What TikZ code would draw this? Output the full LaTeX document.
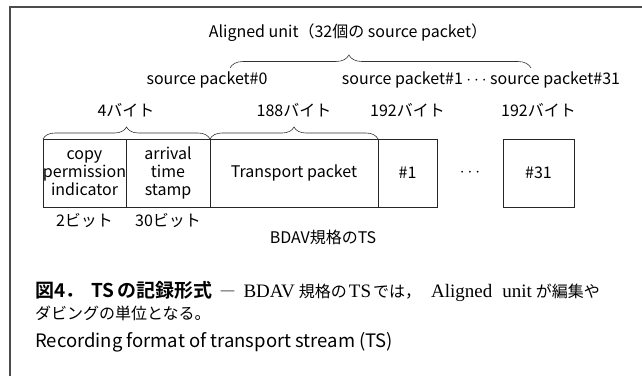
\documentclass[tikz,border=0pt]{standalone}
\usepackage{fontspec}
\setmainfont{Noto Sans CJK JP}[BoldFont={Noto Sans CJK JP Bold}]
\newfontfamily\capserif{Liberation Serif}
\newcommand\caplatin{\fontsize{19}{20}\selectfont\capserif}
\usetikzlibrary{positioning,decorations.pathreplacing}

\begin{document}
\begin{tikzpicture}[x=1pt,y=-1pt,
  cell/.style={draw=black!85, line width=0.9pt, minimum height=68pt, inner sep=0pt, outer sep=0pt, align=center, font=\fontsize{16}{18}\selectfont},
  lbl/.style={inner sep=1pt, font=\fontsize{16}{18}\selectfont},
  brc/.style={decorate, decoration={brace, amplitude=12pt}, black!80, line width=0.6pt}]
\useasboundingbox (0,0) rectangle (642,376);
% Frame on the top and left side
\draw[black!70, line width=2pt] (642,7) -- (10,7) -- (10,376);

% The row of packet fields
\node[cell, minimum width=83pt] (cpi) at (84.5,173) {copy\\permission\\indicator};
\node[cell, minimum width=84pt, right=0pt of cpi] (ats) {arrival\\time\\stamp};
\node[cell, minimum width=168pt, right=0pt of ats] (tp) {Transport packet};
\node[cell, minimum width=59pt, right=0pt of tp] (sp1) {\#1};
\node[cell, draw=none, minimum width=66pt, right=0pt of sp1] (dots) {$\cdots$};
\node[cell, minimum width=71pt, right=0pt of dots] (sp31) {\#31};

% Byte counts and braces over the fields
\draw[brc] (cpi.north west) -- (ats.north east);
\draw[brc] (tp.north west) -- (tp.north east);
\node[lbl] (b4) at (126,110) {4バイト};
\node[lbl] (b188) at (tp |- b4) {188バイト};
\node[lbl] (b192a) at (sp1 |- b4) {192バイト};
\node[lbl] (b192b) at (sp31 |- b4) {192バイト};

% Source packets and the aligned unit
\node[lbl] (sp0) at (207,80) {source packet\#0};
\node[lbl] (spn) at (481,80) {source packet\#1 $\cdots$ source packet\#31};
\coordinate (au1) at (230,68);
\coordinate (au2) at (531,68);
\draw[brc, decoration={amplitude=13pt, aspect=0.395}] (au1) -- (au2);
\node[lbl] (au) at (348,33) {Aligned unit（32個の source packet）};

% Bit counts and the name of the stream
\node[lbl] (bit2) at (cpi |- 0,220) {2ビット};
\node[lbl] (bit30) at (ats |- 0,220) {30ビット};
\node[lbl] (bdav) at (323,237) {BDAV規格のTS};

% Caption
\node[anchor=west, inner sep=0pt, font=\fontsize{16}{19}\selectfont] (cap1) at (35,291)
  {{\fontsize{19}{20}\selectfont\bfseries 図4．\hspace{7pt}TS\hspace{3pt}の記録形式}\hspace{7pt}―\hspace{8pt}{\caplatin BDAV}\hspace{4pt}規格の\hspace{2pt}{\caplatin TS}\hspace{2pt}では，\hspace{10pt}{\caplatin Aligned\hspace{10pt}unit}\hspace{4pt}が編集や};
\node[anchor=west, inner sep=0pt, font=\fontsize{16}{19}\selectfont] (cap2) at (35,313) {ダビングの単位となる。};
\node[anchor=west, inner sep=0pt, font=\fontsize{18.5}{21}\selectfont] (rec) at (35,342) {Recording format of transport stream (TS)};
\end{tikzpicture}
\end{document}
